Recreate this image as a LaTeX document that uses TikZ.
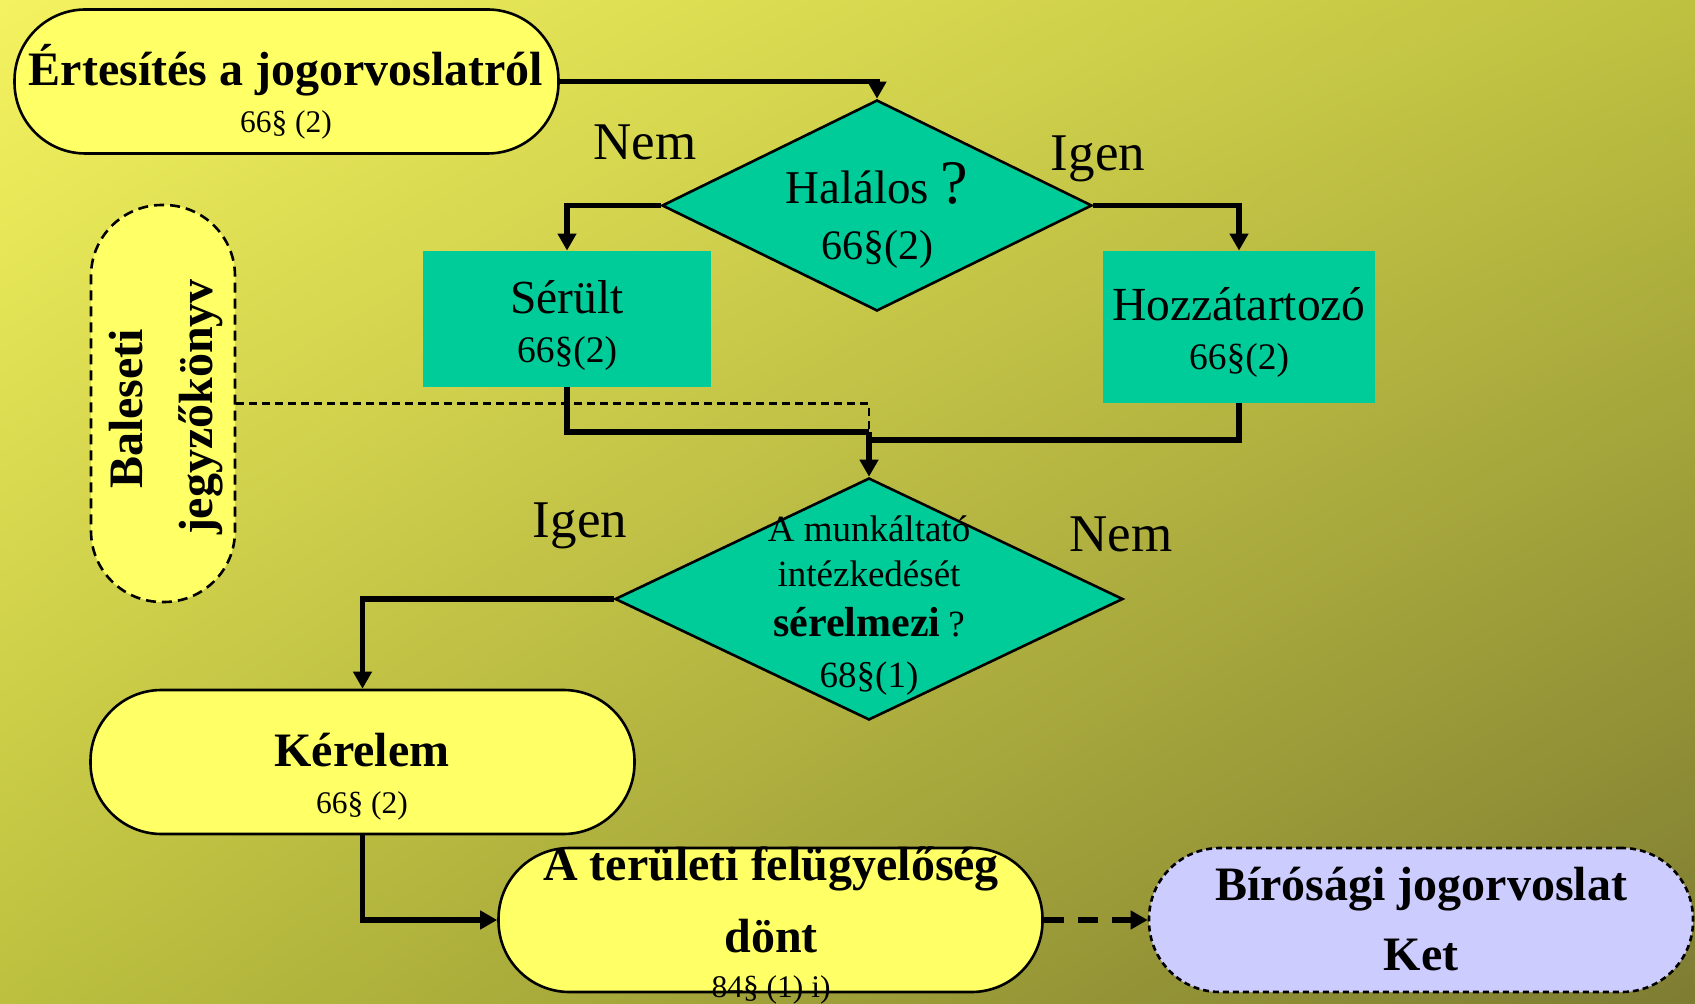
\documentclass[tikz,border=0pt]{standalone}
\usepackage{fontspec}
\setmainfont{Liberation Serif}
\usetikzlibrary{arrows.meta,shapes.geometric,shadings}
\newcommand\fsz[1]{\fontsize{#1pt}{#1pt}\selectfont}
\definecolor{yel}{HTML}{FFFF66}
\definecolor{tealbox}{HTML}{00CC99}
\definecolor{lav}{HTML}{CCCCFF}
\definecolor{bgul}{HTML}{F4F260}
\definecolor{bgur}{HTML}{BEC140}
\definecolor{bgll}{HTML}{BCC03E}
\definecolor{bglr}{HTML}{7E7C32}
\tikzset{
  conn/.style={line width=2.6pt,-{Triangle[length=8.5pt,width=9pt]}},
  lin/.style={line width=2.6pt},
  thindash/.style={line width=1.1pt,dash pattern=on 4pt off 2.5pt},
  stad/.style={draw,line width=1.3pt,rounded corners=35.5pt,fill=yel,inner sep=0pt,
    minimum width=272pt,minimum height=72pt},
  tealrect/.style={fill=tealbox,inner sep=0pt},
  dia/.style={diamond,draw,line width=1.3pt,fill=tealbox,inner sep=0pt},
  txt/.style={inner sep=0pt,anchor=base,align=center},
}
\begin{document}
\begin{tikzpicture}[x=0.5pt,y=-0.5pt]
\useasboundingbox (0,0) rectangle (1695,1004);
\shade[upper left=bgul,upper right=bgur,lower left=bgll,lower right=bglr] (0,0) rectangle (1695,1004);

% shapes
\node[stad] (ert) at (286.5,81.5) {};
\node[dia,minimum width=215pt,minimum height=105.5pt] (hal) at (877,205.5) {};
\node[tealrect,minimum width=144pt,minimum height=68pt] (ser) at (567,319) {};
\node[tealrect,minimum width=136pt,minimum height=76pt] (hoz) at (1239,327) {};
\node[stad,dash pattern=on 5pt off 3pt,minimum width=72pt,minimum height=198.5pt] (bal) at (163,403.5) {};
\node[dia,minimum width=254pt,minimum height=121pt] (mk) at (869,599) {};
\node[stad] (ker) at (362.5,762) {};
\node[stad] (ter) at (770.5,920) {};
\node[stad,fill=lav,dash pattern=on 3pt off 2pt] (bir) at (1421,920) {};

\coordinate (j1) at (869,432);
\coordinate (j2) at (869,440);

% connectors
\draw[conn] (ert.east) -| (hal.north);
\draw[conn] (hal.west) -| (ser.north);
\draw[conn] (hal.east) -| (hoz.north);
\draw[thindash] (bal.east) -| (j1);
\draw[lin] (ser.south) |- (j1);
\draw[lin] (hoz.south) |- (j2);
\draw[conn] (j1) -- (mk.north);
\draw[conn] (mk.west) -| (ker.north);
\draw[conn] (ker.south) |- (ter.west);
\draw[conn,dash pattern=on 10pt off 7pt] (ter.east) -- (bir.west);

% texts
\node[txt] (t1) at (286,86) {\fsz{24}\bfseries Értesítés a jogorvoslatról};
\node[txt] (t2) at (286,133) {\fsz{15.75}66§ (2)};
\node[txt] (nem1) at (645,160) {\fsz{26.5}Nem};
\node[txt] (igen1) at (1098,171) {\fsz{26.5}Igen};
\node[txt] (t3) at (877,204) {\fsz{23.5}Halálos {\fsz{31}?}};
\node[txt] (t4) at (877,260) {\fsz{21}66§(2)};
\node[txt] (t5) at (567,314) {\fsz{23.75}Sérült};
\node[txt] (t6) at (567,363) {\fsz{18.75}66§(2)};
\node[txt] (t7) at (1239,321) {\fsz{23.75}Hozzátartozó};
\node[txt] (t8) at (1239,370) {\fsz{18.75}66§(2)};
\node[txt,rotate=90] (t9) at (142,409) {\fsz{24}\bfseries Baleseti};
\node[txt,rotate=90] (t10) at (212,407) {\fsz{24}\bfseries jegyzőkönyv};
\node[txt] (igen2) at (580,538) {\fsz{26.5}Igen};
\node[txt] (nem2) at (1121,552) {\fsz{26.5}Nem};
\node[txt] (t11) at (869,542) {\fsz{18.5}A munkáltató};
\node[txt] (t12) at (869,587) {\fsz{18.5}intézkedését};
\node[txt] (t13) at (869,636) {{\fsz{21}\bfseries sérelmezi}\hspace{4pt}{\fsz{18.5}?}};
\node[txt] (t14) at (869,687) {\fsz{18.5}68§(1)};
\node[txt] (t15) at (362,766) {\fsz{24}\bfseries Kérelem};
\node[txt] (t16) at (362,813) {\fsz{15.75}66§ (2)};
\node[txt] (t17) at (771,880) {\fsz{24}\bfseries A területi felügyelőség};
\node[txt] (t18) at (771,952) {\fsz{24}\bfseries dönt};
\node[txt] (t19) at (771,997) {\fsz{15.75}84§ (1) i)};
\node[txt] (t20) at (1421,900) {\fsz{24}\bfseries Bírósági jogorvoslat};
\node[txt] (t21) at (1421,970) {\fsz{24}\bfseries Ket};
\end{tikzpicture}
\end{document}
